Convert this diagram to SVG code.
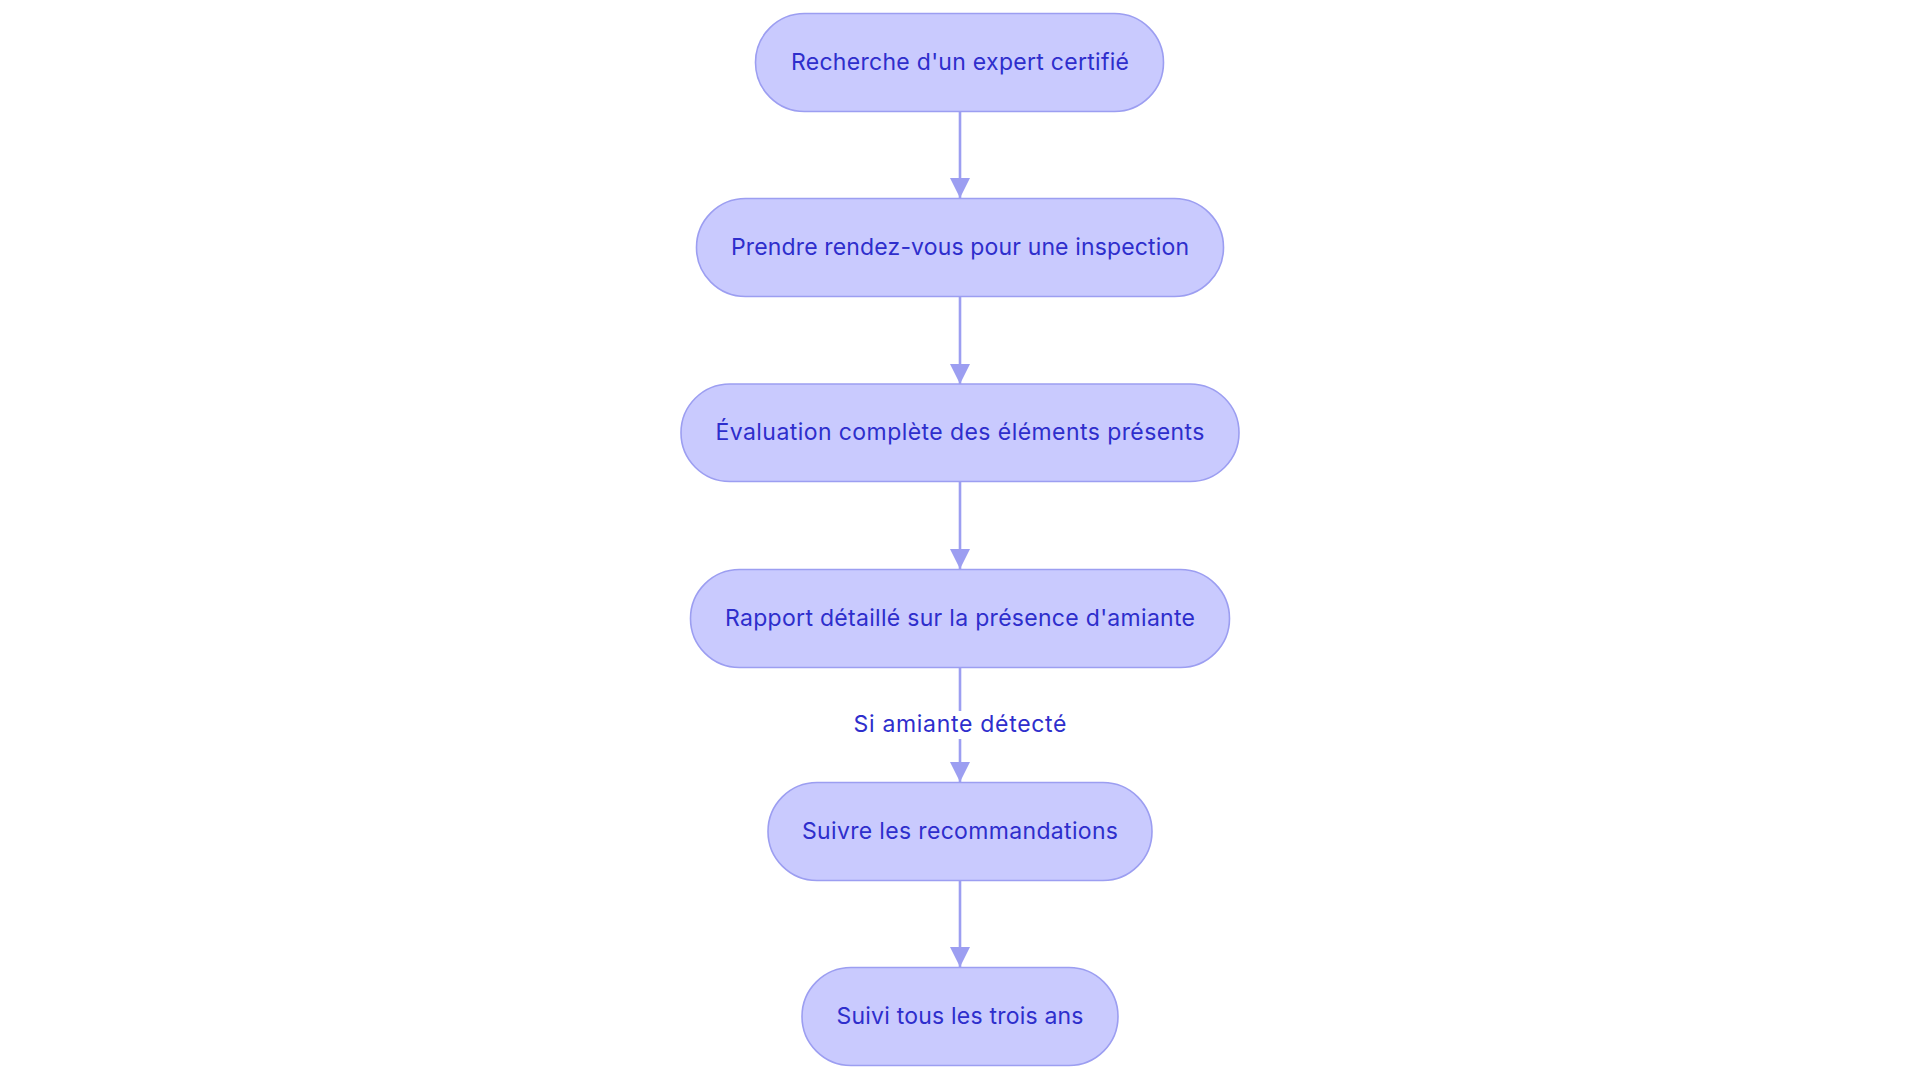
<svg xmlns="http://www.w3.org/2000/svg" width="1920" height="1083" viewBox="0 0 1920 1083">
<style>
.node rect{fill:#C9CAFE;stroke:#9C9EF1;stroke-width:1.6}
.node text,.lbl text{font-family:Inter,"Noto Sans",sans-serif;font-size:23px;fill:#2E2ECC;text-anchor:middle;dominant-baseline:central}
.edge{stroke:#9C9EF1;stroke-width:2.6;fill:none}
</style>
<defs>
<marker id="arr" viewBox="0 0 10 10" refX="10" refY="5" markerUnits="userSpaceOnUse" markerWidth="20" markerHeight="20" orient="auto">
<path d="M0,0 L10,5 L0,10 z" fill="#9C9EF1"/>
</marker>
</defs>
<rect width="1920" height="1083" fill="#FFFFFF"/>
<g id="connectors">
<line class="edge" x1="960" y1="111.5" x2="960" y2="198" marker-end="url(#arr)"/>
<line class="edge" x1="960" y1="296.5" x2="960" y2="384" marker-end="url(#arr)"/>
<line class="edge" x1="960" y1="481.5" x2="960" y2="569" marker-end="url(#arr)"/>
<line class="edge" x1="960" y1="667.5" x2="960" y2="782" marker-end="url(#arr)"/>
<line class="edge" x1="960" y1="880.5" x2="960" y2="967" marker-end="url(#arr)"/>
<g class="lbl" id="label-amiante">
<rect x="852" y="711" width="216" height="28" fill="#FFFFFF"/>
<text x="960" y="724" textLength="213" lengthAdjust="spacing">Si amiante détecté</text>
</g>
</g>
<g class="node" id="n1">
<rect x="755.5" y="13.5" width="408" height="98" rx="49" ry="49"/>
<text x="960" y="61.5" textLength="338" lengthAdjust="spacing">Recherche d'un expert certifié</text>
</g>
<g class="node" id="n2">
<rect x="696.5" y="198.5" width="527" height="98" rx="49" ry="49"/>
<text x="960" y="246.5" textLength="458" lengthAdjust="spacing">Prendre rendez-vous pour une inspection</text>
</g>
<g class="node" id="n3">
<rect x="681" y="384" width="558" height="97.5" rx="48.75" ry="48.75"/>
<text x="960" y="432" textLength="489" lengthAdjust="spacing">Évaluation complète des éléments présents</text>
</g>
<g class="node" id="n4">
<rect x="690.5" y="569.5" width="539" height="98" rx="49" ry="49"/>
<text x="960" y="617.5" textLength="470" lengthAdjust="spacing">Rapport détaillé sur la présence d'amiante</text>
</g>
<g class="node" id="n5">
<rect x="768" y="782.5" width="384" height="98" rx="49" ry="49"/>
<text x="960" y="830.5" textLength="316" lengthAdjust="spacing">Suivre les recommandations</text>
</g>
<g class="node" id="n6">
<rect x="802" y="967.5" width="316" height="98" rx="49" ry="49"/>
<text x="960" y="1015.5" textLength="247" lengthAdjust="spacing">Suivi tous les trois ans</text>
</g>
</svg>
